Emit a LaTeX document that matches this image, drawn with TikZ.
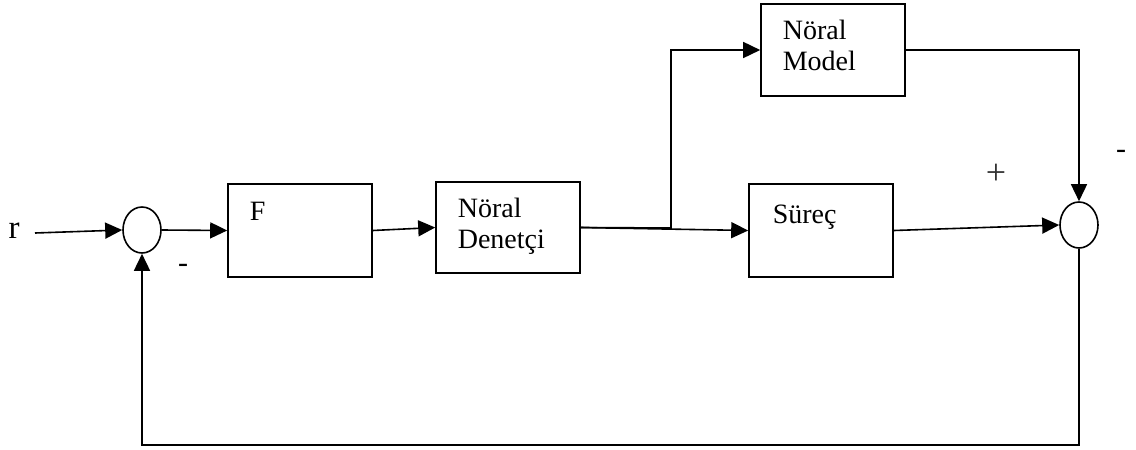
\documentclass[tikz,border=0pt]{standalone}
\usepackage{fontspec}
\setmainfont{Liberation Serif}
\usetikzlibrary{arrows.meta,shapes.geometric}
\begin{document}
\begin{tikzpicture}[x=1pt,y=-1pt,
  line width=1.6pt,
  blk/.style={draw,rectangle,minimum width=144pt,inner sep=0pt},
  sumjn/.style={draw,ellipse,minimum width=38pt,minimum height=46pt,inner sep=0pt},
  lbl/.style={anchor=base west,inner sep=0pt,font=\fontsize{28}{31}\selectfont},
  sgn/.style={inner sep=0pt,font=\fontsize{30}{32}\selectfont},
  flow/.style={-{Triangle[length=17pt,width=16pt]}}
]
\useasboundingbox (0,0) rectangle (1136,450);

% summing junctions
\node[sumjn] (s1) at (142,230) {};
\node[sumjn] (s2) at (1079,225) {};

% blocks
\node[blk,minimum height=93pt] (F)   at (300,230.5) {};
\node[blk,minimum height=91pt] (ND)  at (508,227.5) {};
\node[blk,minimum height=92pt] (NM)  at (833,50) {};
\node[blk,minimum height=93pt] (SR)  at (821,230.5) {};

% block labels
\node[lbl] (tF)   at (249,220) {F};
\node[lbl] (tND1) at (457,217) {Nöral};
\node[lbl] (tND2) at (457,248) {Denetçi};
\node[lbl] (tNM1) at (782,39)  {Nöral};
\node[lbl] (tNM2) at (782,70)  {Model};
\node[lbl] (tSR)  at (772,223) {Süreç};

% reference input
\node[anchor=base,inner sep=0pt,font=\fontsize{33}{36}\selectfont] (r) at (14,238) {r};
\coordinate (rin) at (35,233);

% signs
\node[sgn] (m1) at (183,268) {-};
\node[sgn] (m2) at (1121,154) {-};
\node[inner sep=0pt,font=\fontsize{36}{38}\selectfont,text=black!80] (p2) at (996,174) {+};

% connectors
\coordinate (split) at (671,228);
\coordinate (fbR) at (1079,445);

\draw[flow] (rin) -- (s1.west);
\draw[flow] (s1.east) -- (F.west);
\draw[flow] (F.east) -- (ND.west);
\draw[flow] (ND.east) -- (SR.west);
\draw[flow] (ND.east) -- (split) |- (NM.west);
\draw[flow] (SR.east) -- (s2.west);
\draw[flow] (NM.east) -| (s2.north);
\draw[flow] (s2.south) -- (fbR) -| (s1.south);
\end{tikzpicture}
\end{document}
